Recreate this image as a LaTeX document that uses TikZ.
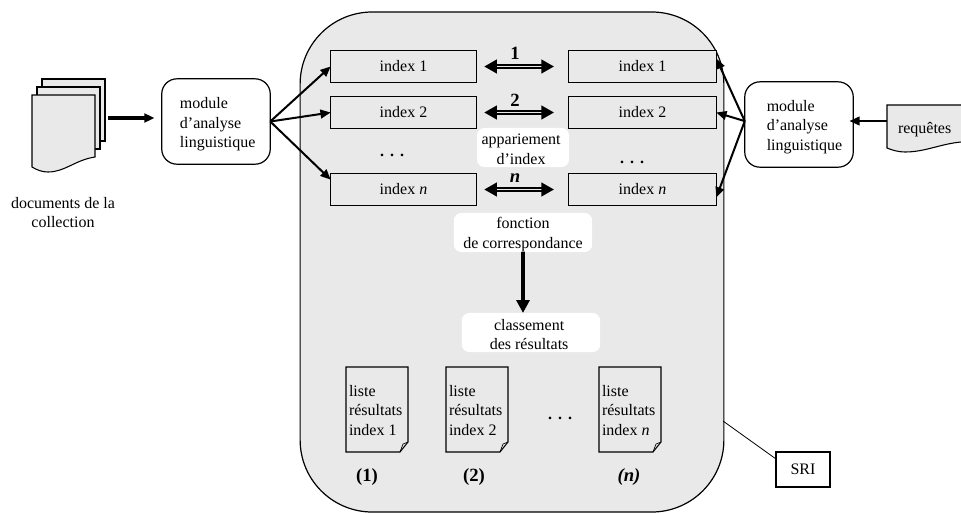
\documentclass[tikz,border=0pt]{standalone}
\usepackage{fontspec}
\setmainfont{Liberation Serif}
\usetikzlibrary{arrows.meta}
\definecolor{sri grey}{HTML}{E9E9E9}

\begin{document}
\begin{tikzpicture}[
    x=0.75pt, y=-0.75pt,
    every node/.style={font=\fontsize{12}{14.6}\selectfont, outer sep=0pt},
    idx cell/.style={draw, fill=sri grey, line width=0.8pt, minimum width=38.4mm, minimum height=8.2mm, inner sep=0pt},
    mod_box/.style={draw, fill=white, line width=0.9pt, rounded corners=4mm, minimum width=28.6mm, minimum height=22.5mm},
    white_box/.style={fill=white, rounded corners=2mm, minimum height=10.3mm, inner sep=0pt},
    left_text/.style={anchor=west, align=left, inner sep=0pt},
    dots_text/.style={inner sep=0pt, font=\fontsize{12}{14.6}\selectfont\bfseries},
    sheet/.style={draw, fill=sri grey, line width=0.8pt},
    link/.style={-{Triangle[length=2.7mm,width=2.3mm]}, line width=1.5pt},
    pair_link/.style={{Triangle[length=3.3mm,width=3.6mm]}-{Triangle[length=3.3mm,width=3.6mm]}, line width=1.5pt, double=sri grey, double distance=0.6pt, shorten <=2.1mm, shorten >=3.9mm},
    num_label/.style={font=\fontsize{14}{16}\selectfont\bfseries}
]
    \useasboundingbox (0,0) rectangle (961,512);

    % SRI block
    \node[draw, fill=sri grey, line width=0.9pt, minimum width=111.7mm, minimum height=131.8mm, rounded corners=19mm] (sri_block) at (512,262) {};
    \node[draw, fill=white, line width=1.6pt, minimum width=14.3mm, minimum height=9.3mm] (sri) at (803,469.5) {SRI};
    \coordinate (sri_tie) at (723,421);
    \draw[line width=0.6pt] (sri_tie) -- ([yshift=2.8mm]sri.west);

    % Documents of the collection
    \filldraw[sheet] (42,79) -- ++(63,0) -- ++(0,62) -- ++(-63,0) -- cycle;
    \filldraw[sheet] (37,87) -- ++(63,0) -- ++(0,62) -- ++(-63,0) -- cycle;
    \filldraw[sheet] (32,95) -- (95,95) -- (95,157) .. controls (75,160) and (65,172) .. (48,172) .. controls (42,172) and (37,170) .. (32,167) -- cycle;
    \coordinate (docs_out) at (108,118);
    \node[align=center] (docs_label) at (63,212.5) {documents de la\\collection};

    % Linguistic modules
    \node[mod_box] (mod_left) at (216,121.5) {};
    \node[left_text] at ([xshift=4.8mm,yshift=-0.8mm]mod_left.west) {module\\d’analyse\\linguistique};
    \node[mod_box] (mod_right) at (799,124.5) {};
    \node[left_text] at ([xshift=5.8mm,yshift=-0.7mm]mod_right.west) {module\\d’analyse\\linguistique};

    % Queries
    \filldraw[sheet] (961,142) .. controls (940,144) and (925,152) .. (905,152) .. controls (898,152) and (892,150) .. (887,148) -- (887,105) -- (961,105);
    \coordinate (req_out) at (887,121);
    \node[left_text] (req_label) at (898,130) {requêtes};

    % Left index column
    \node[idx cell] (idx_l1) at (403.5,66.5) {index 1};
    \node[idx cell] (idx_l2) at (403.5,112.5) {index 2};
    \node[idx cell] (idx_ln) at (403.5,189.5) {index \textit{n}};
    \node[dots_text] (dots_l) at (392,155) {.\kern4.5pt.\kern4.5pt.};

    % Right index column
    \node[idx cell, minimum width=38.9mm] (idx_r1) at (642.5,66.5) {index 1};
    \node[idx cell, minimum width=38.9mm] (idx_r2) at (642.5,112.5) {index 2};
    \node[idx cell, minimum width=38.9mm] (idx_rn) at (642.5,189.5) {index \textit{n}};
    \node[dots_text] (dots_r) at (632,162) {.\kern4.5pt.\kern4.5pt.};

    % Matching arrows
    \draw[pair_link] (idx_l1.east) -- (idx_r1.west);
    \draw[pair_link] (idx_l2.east) -- (idx_r2.west);
    \draw[pair_link] (idx_ln.east) -- (idx_rn.west);
    \node[num_label] at (515,53) {1};
    \node[num_label] at (515,100) {2};
    \node[num_label] at (515,178) {\textit{n}};

    % White captions
    \node[white_box, minimum width=24.3mm] (match_box) at (523,147.5) {};
    \node[align=center, inner sep=0pt] at ([xshift=-0.5mm,yshift=-0.5mm]match_box.center) {appariement\\d’index};
    \node[white_box, minimum width=36.5mm] (func_box) at (523,232.5) {};
    \node[align=center, inner sep=0pt] at ([yshift=-0.5mm]func_box.center) {fonction\\de correspondance};
    \node[white_box, minimum width=36.5mm] (rank_box) at (531,332.5) {};
    \node[align=center, inner sep=0pt] at ([xshift=-0.5mm,yshift=-0.5mm]rank_box.center) {classement\\des résultats};
    \draw[-{Triangle[length=3.4mm,width=3.4mm]}, line width=3.4pt] (func_box.south) -- (func_box.south |- rank_box.north);

    % Module arrows
    \draw[link, line width=3pt] (docs_out) -- (docs_out -| mod_left.west) [shorten >=1.9mm];
    \draw[link] (mod_left.east) -- (idx_l1.west);
    \draw[link] (mod_left.east) -- (idx_l2.west);
    \draw[link] (mod_left.east) -- ([yshift=2.6mm]idx_ln.west);
    \draw[link] ([yshift=0.9mm]mod_right.west) -- ([yshift=2.1mm]idx_r1.east);
    \draw[link] ([yshift=0.9mm]mod_right.west) -- (idx_r2.east);
    \draw[link] ([yshift=0.9mm]mod_right.west) -- ([yshift=-2.1mm]idx_rn.east);
    \draw[link] (req_out) -- (req_out -| mod_right.east) [shorten >=-1mm];

    % Result lists
    \filldraw[sheet] (346,367) -- ++(62,0) -- ++(0,75) -- ++(-8,10) -- ++(-54,0) -- cycle;
    \draw[line width=0.5pt] (408,442) -- ++(-5,2) -- ++(-3,8);
    \node[left_text] (list_1) at (349,410.5) {liste\\résultats\\index 1};
    \filldraw[sheet] (446,367) -- ++(62,0) -- ++(0,75) -- ++(-8,10) -- ++(-54,0) -- cycle;
    \draw[line width=0.5pt] (508,442) -- ++(-5,2) -- ++(-3,8);
    \node[left_text] (list_2) at (449,410.5) {liste\\résultats\\index 2};
    \filldraw[sheet] (599,367) -- ++(62,0) -- ++(0,75) -- ++(-8,10) -- ++(-54,0) -- cycle;
    \draw[line width=0.5pt] (661,442) -- ++(-5,2) -- ++(-3,8);
    \node[left_text] (list_n) at (602,410.5) {liste\\résultats\\index \textit{n}};
    \node[dots_text] (dots_b) at (560,418) {.\kern4.5pt.\kern4.5pt.};

    % Result labels
    \node[num_label] at (367,477) {(1)};
    \node[num_label] at (474,477) {(2)};
    \node[num_label] at (629,477) {\textit{(n)}};
\end{tikzpicture}
\end{document}
